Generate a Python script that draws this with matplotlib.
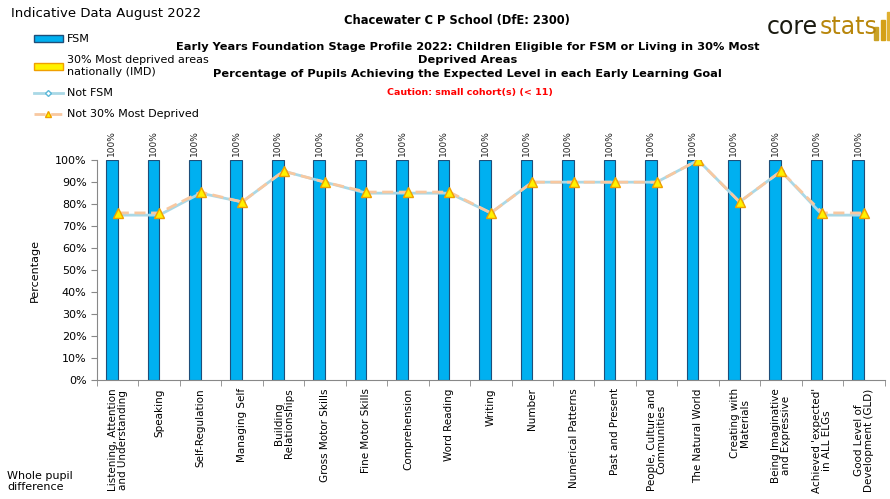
import matplotlib
matplotlib.use("Agg")
import matplotlib.pyplot as plt
import numpy as np
from matplotlib.patches import Patch
from matplotlib.lines import Line2D

# data
categories = ["Listening, Attention\nand Understanding", "Speaking", "Self-Regulation",
              "Managing Self", "Building\nRelationships", "Gross Motor Skills",
              "Fine Motor Skills", "Comprehension", "Word Reading", "Writing", "Number",
              "Numerical Patterns", "Past and Present", "People, Culture and\nCommunities",
              "The Natural World", "Creating with\nMaterials", "Being Imaginative\nand Expressive",
              "Achieved 'expected'\nin ALL ELGs", "Good Level of\nDevelopment (GLD)"]
fsm = [100] * 19
not_fsm = [75, 75, 85, 81, 95, 90, 85, 85, 85, 76, 90, 90, 90, 90, 100, 81, 95, 75, 75]
not_30 = [76, 76, 85.5, 81, 95, 90, 85.5, 85.5, 85.5, 76, 90, 90, 90, 90, 100, 81, 95, 76, 76]
yticks = [0, 10, 20, 30, 40, 50, 60, 70, 80, 90, 100]

plt.rcParams['font.family'] = ['DejaVu Sans']
fig = plt.figure(figsize=(8.9, 4.99), dpi=100)
ax = fig.add_axes([0.109, 0.2385, 0.885, 0.4405])

x = np.arange(len(categories))
bw = 0.28
bars = ax.bar(x - bw / 2, fsm, width=bw, color='#00B0F0', edgecolor='#1F4E79', linewidth=0.8, zorder=2)
for b, v in zip(bars, fsm):
    ax.text(b.get_x() + b.get_width() / 2, v + 2, "%d%%" % v, rotation=90, ha='center', va='bottom',
            fontsize=6.5, color='#222222')

ax.plot(x, not_fsm, color='#A9D8E6', linewidth=2, marker='D', markersize=3,
        markerfacecolor='white', markeredgecolor='#5BB8D8', zorder=3)
ax.plot(x, not_30, color='#F8C8A0', linewidth=2, linestyle=(0, (4, 2)), marker='^', markersize=7,
        markerfacecolor='#FFF200', markeredgecolor='#F0A000', zorder=4)

ax.set_xlim(-0.5, len(categories) - 0.5)
ax.set_ylim(0, 100)
ax.set_yticks(yticks)
ax.set_yticklabels(["%d%%" % t for t in yticks], fontsize=8)
ax.set_xticks(x)
ax.set_xticklabels(categories, rotation=90, fontsize=7.5, linespacing=1.0)
ax.set_xticks(np.arange(len(categories) + 1) - 0.5, minor=True)
ax.tick_params(axis='x', which='major', length=0, pad=6)
ax.tick_params(axis='x', which='minor', length=4, color='#888888')
ax.tick_params(axis='y', length=4, color='#888888')
for s in ['top', 'right']:
    ax.spines[s].set_visible(False)
for s in ['left', 'bottom']:
    ax.spines[s].set_color('#888888')
ax.set_ylabel("Percentage", fontsize=8)
ax.yaxis.set_label_coords(-0.072, 0.5)

# titles
fig.text(0.012, 0.972, "Indicative Data August 2022", fontsize=9.5, va='center')
fig.text(0.513, 0.958, "Chacewater C P School (DfE: 2300)", fontsize=8.3, fontweight='bold', ha='center', va='center')
fig.text(0.525, 0.906, "Early Years Foundation Stage Profile 2022: Children Eligible for FSM or Living in 30% Most",
         fontsize=8.2, fontweight='bold', ha='center', va='center')
fig.text(0.525, 0.880, "Deprived Areas", fontsize=8.2, fontweight='bold', ha='center', va='center')
fig.text(0.525, 0.852, "Percentage of Pupils Achieving the Expected Level in each Early Learning Goal",
         fontsize=8.2, fontweight='bold', ha='center', va='center')
fig.text(0.528, 0.815, "Caution: small cohort(s) (< 11)", fontsize=6.8, fontweight='bold', color='#FF0000',
         ha='center', va='center')
fig.text(0.008, 0.035, "Whole pupil\ndifference", fontsize=8, va='center', linespacing=1.2)

# logo
fig.text(0.862, 0.945, "core", fontsize=17, color='#1a1a10', ha='left', va='center')
fig.text(0.921, 0.945, "stats", fontsize=17, color='#B8860B', ha='left', va='center')
for i, h in enumerate([0.025, 0.04, 0.055]):
    fig.patches.append(plt.Rectangle((0.982 + i * 0.0075, 0.92), 0.005, h, transform=fig.transFigure,
                                     color=['#C9A227', '#D4A017', '#E0B030'][i]))

handles = [Patch(facecolor='#00B0F0', edgecolor='#1F4E79'),
           Patch(facecolor='#FFF200', edgecolor='#F0A000'),
           Line2D([], [], color='#A9D8E6', linewidth=2, marker='D', markersize=3,
                  markerfacecolor='white', markeredgecolor='#5BB8D8'),
           Line2D([], [], color='#F8C8A0', linewidth=2, linestyle=(0, (4, 2)), marker='^', markersize=5,
                  markerfacecolor='#FFF200', markeredgecolor='#F0A000')]
labels = ["FSM", "30% Most deprived areas\nnationally (IMD)", "Not FSM", "Not 30% Most Deprived"]
fig.legend(handles, labels, loc='upper left', bbox_to_anchor=(0.033, 0.94), frameon=False,
           fontsize=8, handlelength=2.6, handleheight=0.5, labelspacing=1.0, handletextpad=0.4,
           borderaxespad=0)

fig.savefig("out.png", dpi=100)
